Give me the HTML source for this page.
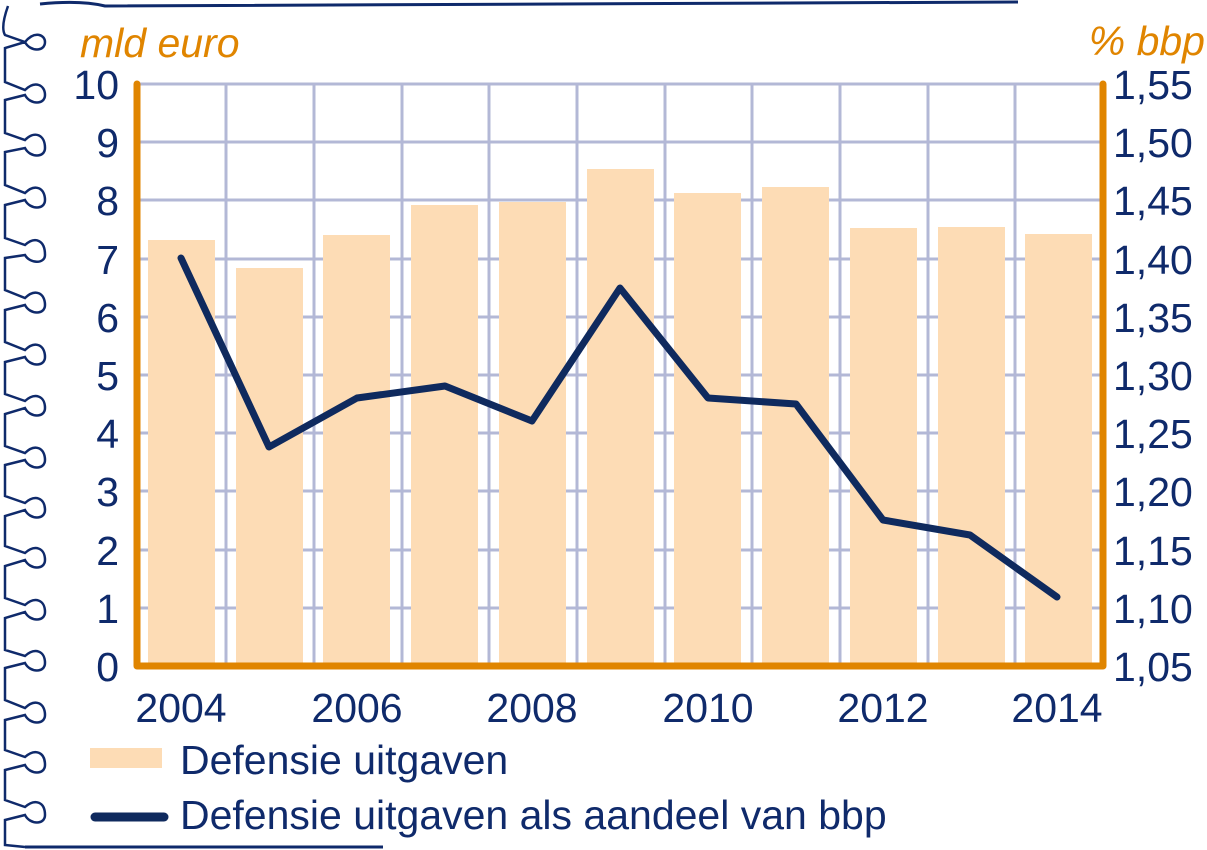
<!DOCTYPE html>
<html><head><meta charset="utf-8"><style>
body{margin:0;background:#fff;width:1207px;height:850px;overflow:hidden}
svg{display:block}
text{font-family:"Liberation Sans",sans-serif}
</style></head><body>
<svg width="1207" height="850" viewBox="0 0 1207 850">
<path d="M40 4 Q80 0 105 6 Q600 4 1018 2" stroke="#0f2a6b" stroke-width="3" fill="none"/>
<line x1="25" y1="847" x2="383" y2="847" stroke="#0f2a6b" stroke-width="3"/>
<g stroke="#b3b8d6" stroke-width="3">
<line x1="137" y1="84" x2="1103" y2="84"/><line x1="137" y1="142" x2="1103" y2="142"/><line x1="137" y1="200" x2="1103" y2="200"/><line x1="137" y1="259" x2="1103" y2="259"/><line x1="137" y1="317" x2="1103" y2="317"/><line x1="137" y1="375" x2="1103" y2="375"/><line x1="137" y1="433" x2="1103" y2="433"/><line x1="137" y1="491" x2="1103" y2="491"/><line x1="137" y1="550" x2="1103" y2="550"/><line x1="137" y1="608" x2="1103" y2="608"/>
<line x1="226" y1="84" x2="226" y2="666"/><line x1="314" y1="84" x2="314" y2="666"/><line x1="402" y1="84" x2="402" y2="666"/><line x1="489" y1="84" x2="489" y2="666"/><line x1="577" y1="84" x2="577" y2="666"/><line x1="665" y1="84" x2="665" y2="666"/><line x1="752" y1="84" x2="752" y2="666"/><line x1="840" y1="84" x2="840" y2="666"/><line x1="928" y1="84" x2="928" y2="666"/><line x1="1015" y1="84" x2="1015" y2="666"/>
</g>
<g fill="#fddcb5">
<rect x="148" y="240" width="67" height="426"/><rect x="236" y="268" width="67" height="398"/><rect x="323" y="235" width="67" height="431"/><rect x="411" y="205" width="67" height="461"/><rect x="499" y="202" width="67" height="464"/><rect x="587" y="169" width="67" height="497"/><rect x="674" y="193" width="67" height="473"/><rect x="762" y="187" width="67" height="479"/><rect x="850" y="228" width="67" height="438"/><rect x="938" y="227" width="67" height="439"/><rect x="1025" y="234" width="67" height="432"/>
</g>
<path d="M137 84 V666 H1103 V84" stroke="#e08500" stroke-width="7" fill="none" stroke-linecap="round" stroke-linejoin="round"/>
<polyline points="181,258 269,447 357,398 445,386 532,421 620,288 708,398 796,404 883,520 970,535 1057,597" fill="none" stroke="#0f2a5e" stroke-width="7" stroke-linejoin="round" stroke-linecap="round"/>
<g fill="#0f2a6b" font-size="41" text-anchor="end">
<text x="119" y="99">10</text><text x="119" y="157">9</text><text x="119" y="215">8</text><text x="119" y="274">7</text><text x="119" y="332">6</text><text x="119" y="390">5</text><text x="119" y="448">4</text><text x="119" y="506">3</text><text x="119" y="565">2</text><text x="119" y="623">1</text><text x="119" y="681">0</text>
</g>
<g fill="#0f2a6b" font-size="41" text-anchor="start">
<text x="1113" y="99">1,55</text><text x="1113" y="157">1,50</text><text x="1113" y="215">1,45</text><text x="1113" y="274">1,40</text><text x="1113" y="332">1,35</text><text x="1113" y="390">1,30</text><text x="1113" y="448">1,25</text><text x="1113" y="506">1,20</text><text x="1113" y="565">1,15</text><text x="1113" y="623">1,10</text><text x="1113" y="681">1,05</text>
</g>
<g fill="#0f2a6b" font-size="41" text-anchor="middle">
<text x="181" y="722">2004</text><text x="357" y="722">2006</text><text x="532" y="722">2008</text><text x="708" y="722">2010</text><text x="883" y="722">2012</text><text x="1057" y="722">2014</text>
</g>
<text x="80" y="57" fill="#e08500" font-size="41" font-style="italic">mld euro</text>
<text x="1205" y="55" fill="#e08500" font-size="41" font-style="italic" text-anchor="end">% bbp</text>
<rect x="90" y="748" width="72" height="20" fill="#fddcb5"/>
<text x="180" y="774" fill="#0f2a6b" font-size="41">Defensie uitgaven</text>
<line x1="95" y1="817" x2="164" y2="817" stroke="#0f2a5e" stroke-width="9" stroke-linecap="round"/>
<text x="180" y="829" fill="#0f2a6b" font-size="41">Defensie uitgaven als aandeel van bbp</text>
<path stroke="#0f2a6b" stroke-width="2.5" fill="none" d="
M8 6 C3 20 2 30 5 35 L25 42 C35 30 45 35 45 42 C45 52 30 52 25 42 L5 48 V82 L25 90 C35 80 45 85 45 95 C45 105 30 105 25 95 L5 100 V133 L25 140 C35 130 45 135 45 148 C45 158 30 158 25 148 L5 152 V185 L25 193 C35 183 45 188 45 200 C45 210 30 210 25 200 L5 205 V238 L25 245 C35 236 45 240 45 255 C45 264 30 264 25 255 L5 258 V290 L25 298 C35 288 45 293 45 305 C45 315 30 315 25 305 L5 310 V342 L25 350 C35 340 45 345 45 357 C45 367 30 367 25 357 L5 362 V394 L25 401 C35 392 45 396 45 408 C45 418 30 418 25 408 L5 414 V446 L25 453 C35 443 45 448 45 460 C45 470 30 470 25 460 L5 465 V496 L25 503 C35 494 45 498 45 510 C45 520 30 520 25 510 L5 516 V546 L25 553 C35 544 45 548 45 560 C45 570 30 570 25 560 L5 566 V598 L25 605 C35 596 45 600 45 612 C45 622 30 622 25 612 L5 618 V650 L25 656 C35 647 45 651 45 663 C45 673 30 673 25 663 L5 668 V700 L25 708 C35 698 45 703 45 715 C45 725 30 725 25 715 L5 720 V750 L25 757 C35 748 45 752 45 765 C45 775 30 775 25 765 L5 770 V800 L25 807 C35 798 45 802 45 815 C45 825 30 825 25 815 L5 820 V845 L25 847"/>
</svg>
</body></html>
